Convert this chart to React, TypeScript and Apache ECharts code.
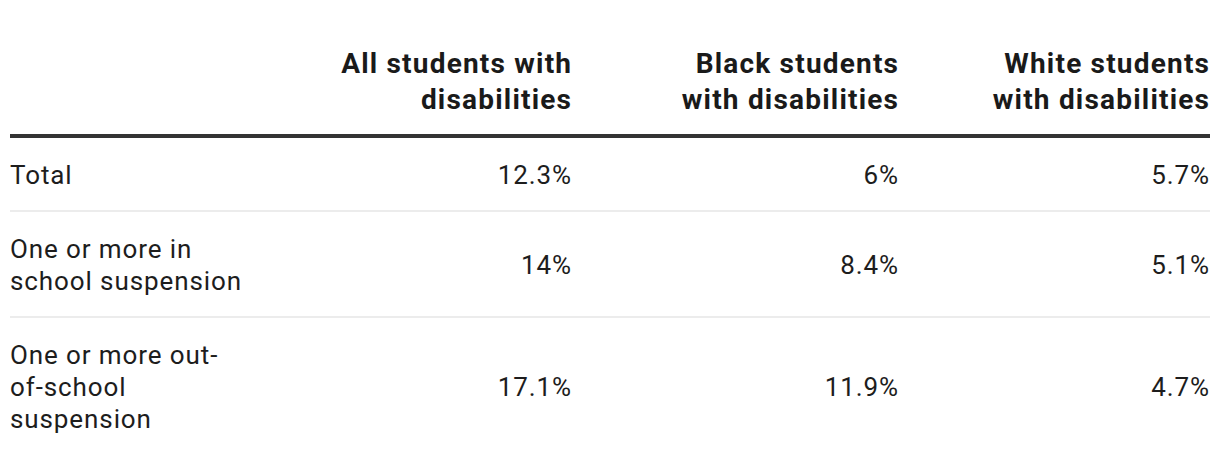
import React, { useEffect, useRef } from "react";
import * as echarts from "echarts";

const columns = ["All students with\ndisabilities", "Black students\nwith disabilities", "White students\nwith disabilities"];
const rowLabels = ["Total", "One or more in\nschool suspension", "One or more out-\nof-school\nsuspension"];
const allStudents = [12.3, 14, 17.1];
const blackStudents = [6, 8.4, 11.9];
const whiteStudents = [5.7, 5.1, 4.7];

const FONT = "Roboto, 'Noto Sans', sans-serif";
const HEAD_SP = 1.2;
const BODY_SP = 0.9;

export default function App() {
  const ref = useRef<HTMLDivElement>(null);
  useEffect(() => {
    if (!ref.current) return;
    const chart = echarts.init(ref.current, undefined, { renderer: "svg" });
    const colRight = [571, 898, 1209];
    const rowCenter = [175, 265, 387];
    const separators = [211, 317];
    const left = 10;
    const right = 1210;
    const seriesVals = [allStudents, blackStudents, whiteStudents];
    const elements: any[] = [];
    columns.forEach((c, i) => {
      elements.push({
        type: "text",
        x: colRight[i] + HEAD_SP,
        y: 81,
        style: {
          text: c,
          font: `bold 28px ${FONT}`,
          fill: "#1a1a1a",
          align: "right",
          verticalAlign: "middle",
          lineHeight: 36,
        },
      });
    });
    elements.push({
      type: "rect",
      shape: { x: left, y: 134, width: right - left, height: 4 },
      style: { fill: "#333333" },
    });
    separators.forEach((y) => {
      elements.push({
        type: "rect",
        shape: { x: left, y: y - 1, width: right - left, height: 2 },
        style: { fill: "#ececec" },
      });
    });
    rowLabels.forEach((lab, r) => {
      elements.push({
        type: "text",
        x: left,
        y: rowCenter[r],
        style: {
          text: lab,
          font: `26px ${FONT}`,
          fill: "#1d1d1d",
          align: "left",
          verticalAlign: "middle",
          lineHeight: 32,
        },
      });
      seriesVals.forEach((vals, c) => {
        elements.push({
          type: "text",
          x: colRight[c] + BODY_SP,
          y: rowCenter[r],
          style: {
            text: `${vals[r]}%`,
            font: `26px ${FONT}`,
            fill: "#1d1d1d",
            align: "right",
            verticalAlign: "middle",
          },
        });
      });
    });
    chart.setOption({
      animation: false,
      backgroundColor: "#ffffff",
      graphic: { elements },
    });
    return () => chart.dispose();
  }, []);
  return (
    <>
      <style>{`
        .tbl svg text { letter-spacing: ${BODY_SP}px; }
        .tbl svg text[style*="bold"] { letter-spacing: ${HEAD_SP}px; }
      `}</style>
      <div
        ref={ref}
        className="tbl"
        style={{ position: "fixed", left: 0, top: 0, width: 1220, height: 464 }}
      />
    </>
  );
}
